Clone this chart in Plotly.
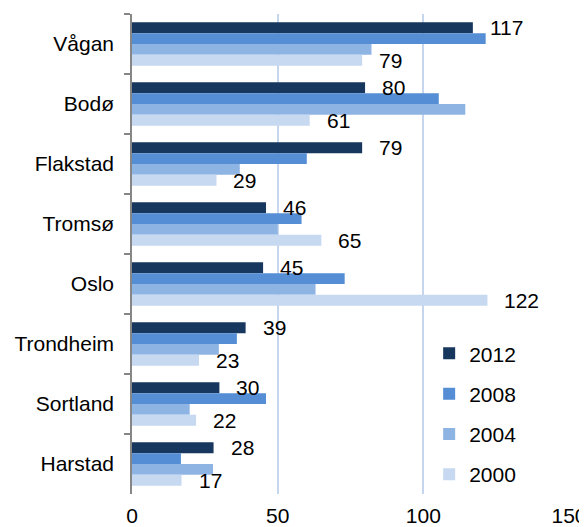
import plotly.graph_objects as go

categories = ["Vågan", "Bodø", "Flakstad", "Tromsø", "Oslo", "Trondheim", "Sortland", "Harstad"]
v2012 = [117, 80, 79, 46, 45, 39, 30, 28]
v2008 = [121.4, 105.3, 60, 58.2, 73, 36, 46, 16.8]
v2004 = [82.2, 114.4, 37, 50, 63, 29.8, 19.8, 27.8]
v2000 = [79, 61, 29, 65, 122, 23, 22, 17]
series_names = ["2012", "2008", "2004", "2000"]
colors = ["#17375E", "#558ED5", "#8EB4E3", "#C6D9F1"]
x_ticks = [0, 50, 100, 150]

series = [v2012, v2008, v2004, v2000]
font = "Liberation Sans, Arial, sans-serif"
fs = 21

fig = go.Figure()
for name, vals, col in zip(series_names, series, colors):
    fig.add_trace(go.Bar(
        y=categories, x=vals, name=name, orientation="h",
        marker=dict(color=col, line=dict(width=0)),
        legendgroup=name,
    ))

bargap = 0.277
w = (1 - bargap) / 4
annotations = []
for idx, vals in [(0, v2012), (3, v2000)]:
    off = (idx - 1.5) * w
    for i, v in enumerate(vals):
        annotations.append(dict(
            x=v, y=i + off, xref="x", yref="y", text=str(round(v)),
            showarrow=False, xanchor="left", yanchor="middle", xshift=15,
            font=dict(family=font, size=fs, color="#000000"),
        ))

fig.update_layout(
    width=579, height=519,
    margin=dict(l=124, r=18, t=6, b=33),
    barmode="group", bargap=bargap, bargroupgap=0,
    plot_bgcolor="white", paper_bgcolor="white",
    font=dict(family=font, size=fs, color="#000000"),
    annotations=annotations,
    showlegend=True,
    legend=dict(
        x=0.68, y=0.335, xanchor="left", yanchor="top",
        traceorder="grouped", tracegroupgap=10,
        font=dict(family=font, size=fs, color="#000000"),
        bgcolor="rgba(0,0,0,0)",
    ),
    xaxis=dict(
        range=[0, 150], tickvals=x_ticks, showgrid=True, automargin=False,
        gridcolor="#C6D6EE", gridwidth=1.5, zeroline=False, showline=False,
        ticks="outside", ticklen=3, tickcolor="rgba(0,0,0,0)",
        tickfont=dict(family=font, size=fs, color="#000000"),
    ),
    yaxis=dict(
        type="category", autorange="reversed", automargin=False,
        showline=True, linecolor="#868686", linewidth=1.5,
        ticks="outside", ticklen=6, tickcolor="#868686", tickwidth=1.5,
        tickson="boundaries", showgrid=False,
        ticklabelstandoff=12,
        tickfont=dict(family=font, size=fs, color="#000000"),
    ),
)

fig.write_html("out.html")
